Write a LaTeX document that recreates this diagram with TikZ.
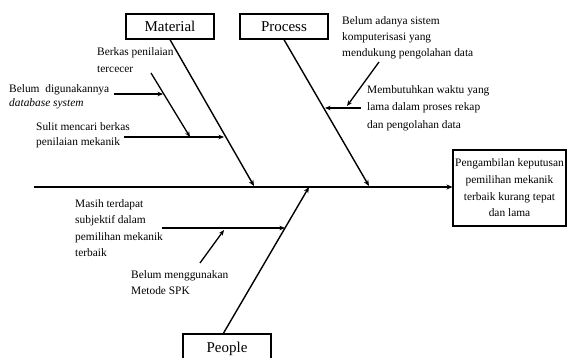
\documentclass[tikz,border=0pt]{standalone}
\usepackage{fontspec}
\setmainfont{Liberation Serif}
\usetikzlibrary{arrows.meta}
\tikzset{
  cat/.style={draw, line width=1.3pt, minimum width=88pt, minimum height=25pt,
    inner sep=0pt, font=\fontsize{15}{18}\selectfont},
  effect/.style={draw, line width=1.1pt, minimum width=113pt, minimum height=76pt,
    inner sep=0pt, align=center, font=\fontsize{11.4}{16.6}\selectfont},
  % anchored at the baseline of the last line
  cause/.style={anchor=base west, inner sep=0pt, align=left,
    font=\fontsize{11.4}{16.5}\selectfont},
  bone/.style={line width=1.4pt, -{Stealth[length=6pt,width=5pt]}},
  spine/.style={line width=1.8pt, -{Stealth[length=6pt,width=5pt]}},
  sub/.style={line width=1.3pt, -{Stealth[length=5.5pt,width=4.5pt]}},
}
\begin{document}
\begin{tikzpicture}[x=1pt, y=-1pt]
\useasboundingbox (0,0) rectangle (567,358);

% category boxes and effect
\node[cat] (mat) at (170,26.5) {Material};
\node[cat] (proc) at (284,26.5) {Process};
\node[cat, minimum height=30pt] (peo) at (227,349) {People};
\node[effect] (eff) at (509.5,188) {Pengambilan keputusan\\pemilihan mekanik\\terbaik kurang tepat\\dan lama};

% spine and main bones
\coordinate (sL) at (34,187);
\coordinate (mEnd) at (254,186);
\coordinate (pEnd) at (369,186);
\coordinate (peEnd) at (309,187);
\coordinate (peStart) at (223,334);
\draw[spine] (sL) -- (sL -| eff.west);
\draw[bone] (mat.south) -- (mEnd);
\draw[bone] (proc.south) -- (pEnd);
\draw[bone] (peStart) -- (peEnd);

% Material causes
\node[cause] (m1) at (97,72.5) {Berkas penilaian\\tercecer};
\node[cause, font=\fontsize{11.4}{13.8}\selectfont] (m2) at (9,106.5) {Belum\ \ digunakannya\\\textit{database system}};
\node[cause, font=\fontsize{11.4}{15}\selectfont] (m3) at (36,146) {Sulit mencari berkas\\penilaian mekanik};
\coordinate (m1a) at (151,73);
\coordinate (m1b) at (190,137);
\coordinate (m2a) at (114,94);
\coordinate (m2b) at (163,94);
\coordinate (m3a) at (124,137);
\coordinate (m3b) at (224,137);
\draw[sub] (m1a) -- (m1b);
\draw[sub] (m2a) -- (m2b);
\draw[sub] (m3a) -- (m3b);

% Process causes
\node[cause, font=\fontsize{11.4}{16}\selectfont] (p1) at (342,57) {Belum adanya sistem\\komputerisasi yang\\mendukung pengolahan data};
\node[cause, font=\fontsize{11.4}{17.5}\selectfont] (p2) at (367,128.5) {Membutuhkan waktu yang\\lama dalam proses rekap\\dan pengolahan data};
\coordinate (p1a) at (379,62);
\coordinate (p1b) at (347,106);
\coordinate (p2a) at (361,108);
\coordinate (p2b) at (325,108);
\draw[sub] (p1a) -- (p1b);
\draw[sub] (p2a) -- (p2b);

% People causes
\node[cause] (q1) at (75,256.5) {Masih terdapat\\subjektif dalam\\pemilihan mekanik\\terbaik};
\node[cause, font=\fontsize{11.4}{16}\selectfont] (q2) at (131,294) {Belum menggunakan\\Metode SPK};
\coordinate (q1a) at (162,228);
\coordinate (q1b) at (285,228);
\coordinate (q2a) at (200,263);
\coordinate (q2b) at (224,230);
\draw[sub] (q1a) -- (q1b);
\draw[sub] (q2a) -- (q2b);
\end{tikzpicture}
\end{document}
